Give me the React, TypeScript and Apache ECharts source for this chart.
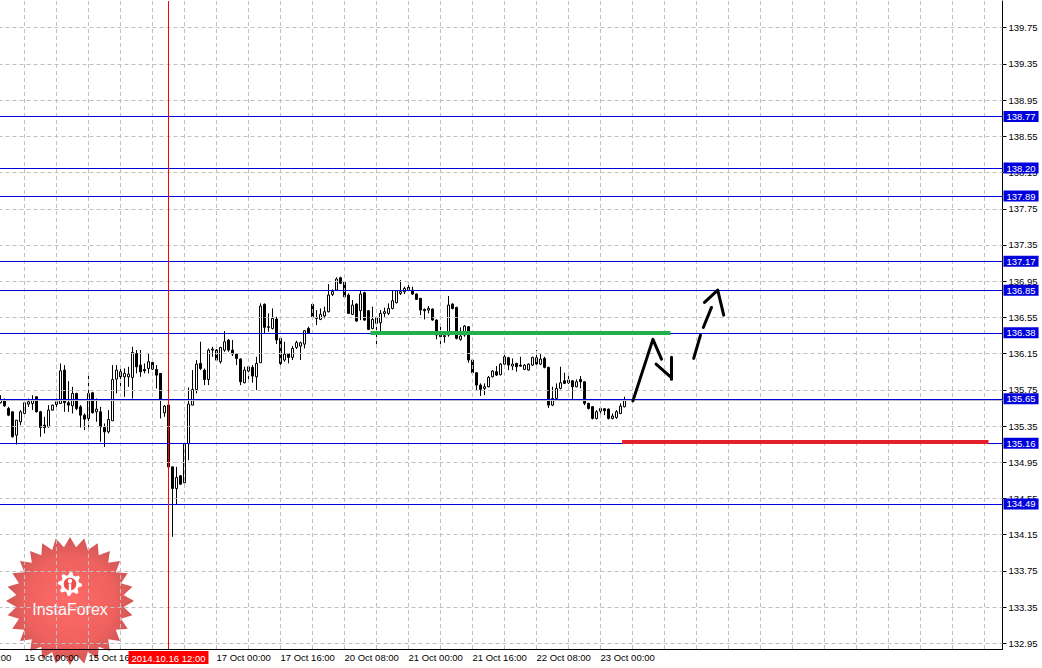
import React, { useEffect, useRef } from "react";
import * as echarts from "echarts";

// ---------------- data ----------------
const tradingDays = ["14 Oct", "15 Oct", "16 Oct", "17 Oct", "20 Oct", "21 Oct", "22 Oct", "23 Oct", "24 Oct", "27 Oct", "28 Oct", "29 Oct"];
const firstHour = 18;
const slotCount = 251;

const xTickLabels = ["15 Oct 00:00", "15 Oct 16:00", "17 Oct 00:00", "17 Oct 16:00", "20 Oct 08:00", "21 Oct 00:00", "21 Oct 16:00", "22 Oct 08:00", "23 Oct 00:00"];
const crosshairTime = "16 Oct 12:00";
const crosshairLabel = "2014.10.16 12:00";

const yTickValues = [132.95, 133.35, 133.75, 134.15, 134.55, 134.95, 135.35, 135.75, 136.15, 136.55, 136.95, 137.35, 137.75, 138.15, 138.55, 138.95, 139.35, 139.75];
const yMin = 132.887;
const yMax = 140.045;

const levelPrices = [138.77, 138.2, 137.89, 137.17, 136.85, 136.38, 135.65, 135.16, 134.49];
const bidPrice = 135.637;

// [open, close, low, high] per hour (H1)
const oct14 = [
  [135.607, 135.643, 135.599, 135.691], [135.636, 135.573, 135.562, 135.654], [135.544, 135.47, 135.459, 135.562],
  [135.507, 135.231, 135.224, 135.507], [135.249, 135.415, 135.146, 135.415], [135.397, 135.507, 135.36, 135.526],
];
const oct15 = [
  [135.489, 135.607, 135.481, 135.618], [135.592, 135.618, 135.562, 135.654], [135.599, 135.643, 135.526, 135.691],
  [135.673, 135.507, 135.5, 135.68], [135.507, 135.334, 135.231, 135.518], [135.36, 135.334, 135.268, 135.452],
  [135.341, 135.526, 135.334, 135.581], [135.526, 135.581, 135.52, 135.585], [135.588, 135.618, 135.526, 135.654],
  [135.599, 135.96, 135.595, 136.041], [135.968, 135.607, 135.507, 136.023], [135.607, 135.581, 135.507, 135.846],
  [135.573, 135.71, 135.489, 135.783], [135.71, 135.544, 135.526, 135.717], [135.562, 135.47, 135.334, 135.581],
  [135.47, 135.426, 135.305, 135.489], [135.433, 135.71, 135.334, 135.912], [135.717, 135.496, 135.489, 135.728],
  [135.507, 135.537, 135.397, 135.654], [135.507, 135.341, 135.176, 135.562], [135.334, 135.286, 135.12, 135.378],
  [135.286, 135.422, 135.268, 135.526], [135.408, 135.864, 135.408, 136.023], [135.868, 135.968, 135.71, 136.023],
];
const oct16 = [
  [135.949, 135.894, 135.783, 136.004], [135.894, 135.931, 135.673, 135.986], [135.894, 135.923, 135.783, 136.004],
  [135.887, 136.163, 135.654, 136.225], [136.152, 136.004, 135.931, 136.189], [136.023, 135.949, 135.894, 136.189],
  [135.975, 135.96, 135.931, 136.041], [135.986, 136.06, 135.931, 136.152], [136.052, 135.979, 135.968, 136.078],
  [135.975, 135.912, 135.765, 136.023], [135.931, 135.636, 135.433, 135.931], [135.496, 135.57, 135.452, 135.581],
  [135.581, 134.899, 134.88, 135.59], [134.899, 134.66, 134.126, 134.899], [134.66, 134.782, 134.487, 134.899],
  [134.8, 134.708, 134.7, 134.81], [134.723, 135.157, 134.72, 135.16], [135.157, 135.592, 134.973, 135.776],
  [135.581, 135.754, 135.581, 135.968], [135.754, 136.034, 135.71, 136.078], [136.041, 135.986, 135.968, 136.281],
  [135.968, 135.864, 135.802, 135.986], [135.864, 136.189, 135.802, 136.207], [136.189, 136.2, 136.115, 136.225],
];
const oct17 = [
  [136.189, 136.078, 136.06, 136.2], [136.06, 136.218, 136.04, 136.225], [136.189, 136.281, 136.17, 136.398],
  [136.299, 136.189, 136.17, 136.31], [136.189, 136.145, 136.123, 136.3], [136.145, 136.097, 136.023, 136.15],
  [136.09, 135.839, 135.802, 136.1], [135.828, 135.968, 135.821, 136.005], [135.957, 136.005, 135.839, 136.023],
  [135.998, 135.902, 135.828, 136.023], [135.894, 136.042, 135.747, 136.115], [136.049, 136.675, 136.049, 136.705],
  [136.694, 136.44, 136.373, 136.705], [136.447, 136.44, 136.392, 136.594], [136.428, 136.539, 136.417, 136.649],
  [136.532, 136.3, 136.255, 136.557], [136.318, 136.042, 136.023, 136.336], [136.079, 136.145, 136.06, 136.281],
  [136.152, 136.108, 136.042, 136.155], [136.108, 136.207, 136.079, 136.233], [136.218, 136.273, 136.2, 136.292],
  [136.233, 136.27, 136.079, 136.281], [136.255, 136.403, 136.207, 136.41], [136.428, 136.38, 136.373, 136.447],
];
const oct20 = [
  [136.694, 136.557, 136.55, 136.705], [136.55, 136.539, 136.465, 136.631], [136.528, 136.583, 136.52, 136.649],
  [136.565, 136.613, 136.539, 136.668], [136.613, 136.797, 136.605, 136.918], [136.804, 136.834, 136.786, 136.859],
  [136.852, 136.974, 136.845, 136.992], [136.988, 136.926, 136.918, 136.999], [136.937, 136.778, 136.771, 136.944],
  [136.797, 136.594, 136.587, 136.815], [136.583, 136.686, 136.576, 136.742], [136.697, 136.509, 136.502, 136.705],
  [136.624, 136.808, 136.52, 136.852], [136.823, 136.52, 136.513, 136.834], [136.624, 136.417, 136.41, 136.631],
  [136.428, 136.528, 136.417, 136.668], [136.484, 136.546, 136.255, 136.557], [136.491, 136.594, 136.355, 136.631],
  [136.594, 136.613, 136.557, 136.657], [136.594, 136.649, 136.576, 136.705], [136.649, 136.734, 136.638, 136.852],
  [136.712, 136.845, 136.705, 136.852], [136.815, 136.834, 136.797, 136.962], [136.834, 136.87, 136.808, 136.889],
];
const oct21 = [
  [136.882, 136.859, 136.834, 136.918], [136.852, 136.808, 136.797, 136.889], [136.808, 136.749, 136.742, 136.815],
  [136.76, 136.631, 136.576, 136.767], [136.638, 136.624, 136.528, 136.649], [136.631, 136.649, 136.594, 136.675],
  [136.642, 136.521, 136.513, 136.649], [136.521, 136.355, 136.307, 136.528], [136.337, 136.355, 136.244, 136.447],
  [136.337, 136.348, 136.27, 136.381], [136.355, 136.686, 136.337, 136.786], [136.697, 136.649, 136.638, 136.705],
  [136.66, 136.318, 136.307, 136.668], [136.307, 136.344, 136.292, 136.44], [136.355, 136.454, 136.337, 136.465],
  [136.447, 136.079, 136.049, 136.454], [136.079, 135.939, 135.931, 136.086], [135.939, 135.802, 135.747, 135.946],
  [135.802, 135.754, 135.681, 135.821], [135.765, 135.784, 135.692, 135.821], [135.784, 135.887, 135.777, 135.902],
  [135.894, 135.957, 135.887, 135.968], [135.95, 135.913, 135.902, 136.012], [135.917, 136.034, 135.909, 136.042],
];
const oct22 = [
  [136.034, 136.115, 136.027, 136.182], [136.104, 136.023, 135.968, 136.115], [136.012, 136.034, 135.968, 136.097],
  [136.042, 136.005, 135.95, 136.049], [136.023, 136.012, 136.005, 136.115], [135.976, 136.023, 135.968, 136.034],
  [135.968, 136.034, 135.961, 136.042], [136.023, 136.108, 136.012, 136.115], [136.104, 136.034, 136.027, 136.189],
  [136.034, 136.09, 136.023, 136.145], [136.097, 135.998, 135.987, 136.115], [135.998, 135.581, 135.55, 136.005],
  [135.581, 135.655, 135.57, 135.784], [135.655, 135.766, 135.644, 135.821], [135.766, 135.828, 135.755, 136.005],
  [135.85, 135.821, 135.813, 135.939], [135.858, 135.828, 135.813, 135.902], [135.85, 135.784, 135.637, 135.858],
  [135.784, 135.839, 135.777, 135.865], [135.865, 135.839, 135.766, 135.902], [135.839, 135.6, 135.581, 135.846],
  [135.6, 135.544, 135.533, 135.607], [135.563, 135.434, 135.423, 135.57], [135.434, 135.508, 135.423, 135.526],
];
const oct23 = [
  [135.515, 135.544, 135.489, 135.563], [135.541, 135.519, 135.471, 135.545], [135.537, 135.434, 135.423, 135.545],
  [135.434, 135.46, 135.423, 135.489], [135.445, 135.508, 135.43, 135.526], [135.489, 135.57, 135.482, 135.6],
  [135.563, 135.637, 135.556, 135.674],
];

// drawn annotations, in (hour slot, price)
const supportSegment = [[92.5, 136.38], [167.5, 136.38]];
const targetSegment = [[155.4, 135.175], [247, 135.175]];
const forecastUp = [[158.1, 135.628], [163.1, 136.307], [165.25, 136.089]];
const forecastHook = [[163.9, 136.034], [167.5, 135.894]];
const forecastBar = [[167.75, 136.111], [167.75, 135.868]];
const forecastDash1 = [[173.3, 136.097], [175, 136.354]];
const forecastDash2 = [[175.7, 136.439], [177.75, 136.66]];
const forecastHead = [[176, 136.716], [179.3, 136.852], [180.8, 136.575]];

// ---------------- derived ----------------
const candles = [...oct14, ...oct15, ...oct16, ...oct17, ...oct20, ...oct21, ...oct22, ...oct23];

const categories: string[] = [];
for (const day of tradingDays) {
  for (let h = day === tradingDays[0] ? firstHour : 0; h < 24 && categories.length < slotCount; h++) {
    categories.push(`${day} ${String(h).padStart(2, "0")}:00`);
  }
}
const gridColumns = categories
  .map((c, i) => (/ (00|08|16):00$/.test(c) ? i : -1))
  .filter((i) => i >= 0);
const crosshairIndex = categories.indexOf(crosshairTime);

const FONT = "'Liberation Sans', Arial, sans-serif";
const LEVEL_BLUE = "#0000dd";

function buildBadge() {
  const cx = 70, cy = 601, rOut = 64, rIn = 54, n = 28;
  const pts: number[][] = [];
  for (let k = 0; k < n * 2; k++) {
    const a = (k * Math.PI) / n - Math.PI / 2;
    const r = k % 2 === 0 ? rOut : rIn;
    pts.push([cx + r * Math.cos(a), cy + r * Math.sin(a)]);
  }
  const gx = 70, gy = 584;
  const gear: number[][] = [];
  const teeth = 8;
  for (let k = 0; k < teeth * 4; k++) {
    const a = (k * Math.PI * 2) / (teeth * 4) - Math.PI / 2;
    const r = k % 4 < 2 ? 12 : 9;
    gear.push([gx + r * Math.cos(a), gy + r * Math.sin(a)]);
  }
  return {
    type: "group",
    silent: true,
    children: [
      {
        type: "polygon",
        shape: { points: pts },
        style: {
          fill: new echarts.graphic.RadialGradient(0.5, 0.5, 0.5, [
            { offset: 0, color: "#ff5652" },
            { offset: 0.7, color: "#ec4b48" },
            { offset: 1, color: "#c8403f" },
          ]),
          opacity: 0.88,
        },
      },
      { type: "polygon", shape: { points: gear }, style: { fill: "#ffffff" } },
      { type: "circle", shape: { cx: gx, cy: gy, r: 6.3 }, style: { fill: "#ee4d4a" } },
      { type: "circle", shape: { cx: gx, cy: gy - 3, r: 2.2 }, style: { fill: "#ffffff" } },
      { type: "rect", shape: { x: gx - 1.2, y: gy - 0.5, width: 2.4, height: 9 }, style: { fill: "#ffffff" } },
      {
        type: "text",
        x: 70,
        y: 609,
        style: { text: "InstaForex", fill: "#ffffff", font: `16px ${FONT}`, align: "center", verticalAlign: "middle" },
      },
    ],
  };
}

export default function App() {
  const ref = useRef<HTMLDivElement>(null);
  useEffect(() => {
    if (!ref.current) return;
    document.body.style.margin = "0";
    const chart = echarts.init(ref.current, undefined, { renderer: "svg" });

    const labelFont = { fontSize: 9.5, fontFamily: FONT };
    const strokeSeries = [forecastUp, forecastHook, forecastBar, forecastDash1, forecastDash2, forecastHead].map((s) => ({
      type: "line",
      xAxisIndex: 1,
      data: s,
      symbol: "none",
      showSymbol: false,
      silent: true,
      z: 5,
      lineStyle: { color: "#000000", width: 3, cap: "round", join: "round" },
    }));

    const option: any = {
      animation: false,
      backgroundColor: "#ffffff",
      tooltip: { show: false },
      grid: { left: -1.5, right: 39.5, top: 1, bottom: 19, containLabel: false, outerBoundsMode: "none" },
      xAxis: [
        {
          type: "category",
          data: categories,
          boundaryGap: true,
          axisLine: { show: true, onZero: false, lineStyle: { color: "#000000", width: 1 } },
          axisTick: { show: false },
          splitLine: { show: false },
          axisLabel: {
            interval: (_i: number, v: string) => xTickLabels.includes(v),
            align: "left",
            color: "#000000",
            margin: 3,
            hideOverlap: false,
            ...labelFont,
          },
        },
        { type: "value", min: -0.5, max: slotCount - 0.5, show: false, axisLine: { onZero: false } },
      ],
      yAxis: {
        type: "value",
        position: "right",
        min: yMin,
        max: yMax,
        axisLine: { show: true, onZero: false, lineStyle: { color: "#000000", width: 1 } },
        axisTick: { show: true, customValues: yTickValues, length: 4, lineStyle: { color: "#000000" } },
        axisLabel: {
          customValues: yTickValues,
          formatter: (v: number) => v.toFixed(2),
          color: "#000000",
          margin: 6,
          ...labelFont,
        },
        splitLine: { show: false },
      },
      series: [
        {
          type: "line",
          xAxisIndex: 1,
          data: [],
          silent: true,
          z: 1,
          markLine: {
            silent: true,
            symbol: "none",
            label: { show: false },
            lineStyle: { color: "#c0c0c0", type: [4, 3], width: 1 },
            data: [
              ...yTickValues.map((v) => ({ yAxis: v })),
              ...gridColumns.map((c) => ({ xAxis: c })),
            ],
          },
        },
        {
          type: "line",
          xAxisIndex: 1,
          data: [],
          silent: true,
          z: 2,
          markLine: {
            silent: true,
            symbol: "none",
            lineStyle: { color: LEVEL_BLUE, type: "solid", width: 1 },
            label: {
              show: true,
              position: "end",
              distance: 1,
              color: "#ffffff",
              backgroundColor: LEVEL_BLUE,
              padding: [1, 3, 0, 3],
              ...labelFont,
            },
            data: [
              { yAxis: bidPrice, lineStyle: { color: "#c0c0c0" }, label: { show: false } },
              ...levelPrices.map((p) => ({ yAxis: p, label: { formatter: p.toFixed(2) } })),
            ],
          },
        },
        {
          type: "candlestick",
          xAxisIndex: 0,
          data: candles,
          barWidth: 2,
          silent: true,
          z: 3,
          itemStyle: {
            color: "#ffffff",
            color0: "#000000",
            borderColor: "#000000",
            borderColor0: "#000000",
            borderWidth: 1,
          },
        },
        {
          type: "line",
          xAxisIndex: 1,
          data: [],
          silent: true,
          z: 4,
          markLine: {
            silent: true,
            symbol: "none",
            label: { show: false },
            data: [
              [
                { coord: supportSegment[0], lineStyle: { color: "#22b04a", width: 4, type: "solid" } },
                { coord: supportSegment[1] },
              ],
              [
                { coord: targetSegment[0], lineStyle: { color: "#e4202a", width: 4, type: "solid" } },
                { coord: targetSegment[1] },
              ],
            ],
          },
        },
        ...strokeSeries,
        {
          type: "line",
          xAxisIndex: 1,
          data: [],
          silent: true,
          z: 6,
          markLine: {
            silent: true,
            symbol: "none",
            lineStyle: { color: "#ff0000", width: 1, type: "solid" },
            label: {
              show: true,
              position: "start",
              distance: 2,
              formatter: crosshairLabel,
              color: "#ffffff",
              backgroundColor: "#ff0000",
              padding: [2, 3, 1, 3],
              ...labelFont,
            },
            data: [{ xAxis: crosshairIndex }],
          },
        },
      ],
      graphic: [
        buildBadge(),
        {
          type: "text",
          x: -43,
          y: 657,
          silent: true,
          style: { text: "14 Oct 08:00", fill: "#000000", font: `9.5px ${FONT}`, verticalAlign: "middle" },
        },
      ],
    };
    chart.setOption(option);
    return () => chart.dispose();
  }, []);

  return (
    <div style={{ position: "fixed", left: 0, top: 0, width: 1042, height: 668, background: "#ffffff" }}>
      <div ref={ref} style={{ width: 1042, height: 668 }} />
    </div>
  );
}
